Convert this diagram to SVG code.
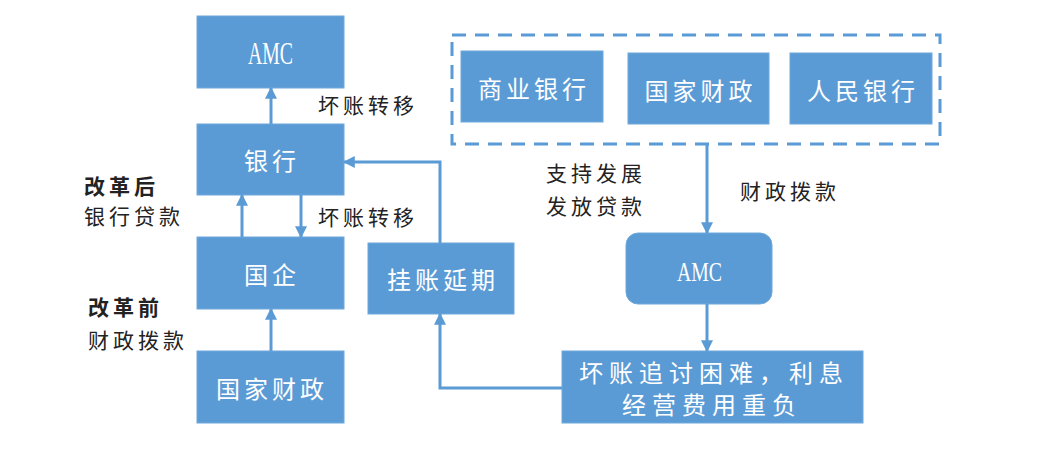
<svg xmlns="http://www.w3.org/2000/svg" width="1058" height="451" viewBox="0 0 1058 451">
<defs>
<marker id="ah" viewBox="0 0 10 10" refX="9" refY="5" markerWidth="4" markerHeight="4" orient="auto" markerUnits="strokeWidth"><path d="M0,0 L10,5 L0,10 z" fill="#5B9BD5"/></marker>
<style>
.box{fill:#5B9BD5;stroke:#6FA8DC;stroke-width:1}
.bt{fill:#fff;font-family:"Noto Sans CJK SC","Noto Sans CJK JP",sans-serif;font-size:24px;letter-spacing:4px;text-anchor:middle;dominant-baseline:central}
.amc{fill:#fff;font-family:"Liberation Serif",serif;font-size:31px;text-anchor:middle;dominant-baseline:central}
.lb{fill:#222;font-family:"Noto Sans CJK SC","Noto Sans CJK JP",sans-serif;font-size:21px;letter-spacing:4px;dominant-baseline:central}
.bold{font-weight:bold}
.con{fill:none;stroke:#5B9BD5;stroke-width:3;marker-end:url(#ah)}
</style>
</defs>
<rect width="1058" height="451" fill="#fff"/>
<g id="amc-top"><rect class="box" x="197" y="16" width="147" height="72"/><text class="amc" x="270.5" y="53" textLength="45" lengthAdjust="spacingAndGlyphs">AMC</text></g>
<g id="bank"><rect class="box" x="197" y="124" width="147" height="71"/><text class="bt" x="272" y="159">银行</text></g>
<g id="soe"><rect class="box" x="197" y="237" width="147" height="72"/><text class="bt" x="272" y="273">国企</text></g>
<g id="finance-left"><rect class="box" x="197" y="351" width="147" height="72"/><text class="bt" x="272" y="387">国家财政</text></g>
<g id="defer"><rect class="box" x="368" y="243" width="146" height="71"/><text class="bt" x="443" y="278.5">挂账延期</text></g>
<g id="group">
<rect x="452" y="35" width="488" height="109" fill="none" stroke="#5B9BD5" stroke-width="3" stroke-dasharray="14,9"/>
</g>
<g id="cbank"><rect class="box" x="461" y="51" width="142" height="71"/><text class="bt" x="534" y="87">商业银行</text></g>
<g id="finance-right"><rect class="box" x="628" y="53" width="141" height="71"/><text class="bt" x="700.5" y="89">国家财政</text></g>
<g id="pboc"><rect class="box" x="790" y="53" width="142" height="71"/><text class="bt" x="863" y="89">人民银行</text></g>
<g id="amc-right"><rect class="box" x="626" y="233" width="146" height="71" rx="12"/><text class="amc" x="699.5" y="271" style="font-size:28px" textLength="45" lengthAdjust="spacingAndGlyphs">AMC</text></g>
<g id="bad"><rect class="box" x="562" y="351" width="301" height="72"/>
<text class="bt" x="714" y="371" style="letter-spacing:6px">坏账追讨困难，利息</text>
<text class="bt" x="712" y="403" style="letter-spacing:6px">经营费用重负</text></g>
<g id="labels">
<text class="lb" x="318" y="104">坏账转移</text>
<text class="lb" x="318" y="216">坏账转移</text>
<text class="lb bold" x="84" y="185">改革后</text>
<text class="lb" x="84" y="215">银行贷款</text>
<text class="lb bold" x="88" y="306">改革前</text>
<text class="lb" x="88" y="339">财政拨款</text>
<text class="lb" x="546" y="172">支持发展</text>
<text class="lb" x="546" y="205">发放贷款</text>
<text class="lb" x="740" y="190">财政拨款</text>
</g>
<g id="connectors">
<path class="con" d="M271,124 V88"/>
<path class="con" d="M242,237 V195"/>
<path class="con" d="M301,195 V237"/>
<path class="con" d="M271,351 V309"/>
<path class="con" d="M440,243 V162 H344"/>
<path class="con" d="M562,388 H440 V314"/>
<path class="con" d="M707,144 V233"/>
<path class="con" d="M707,304 V351"/>
</g>
</svg>
